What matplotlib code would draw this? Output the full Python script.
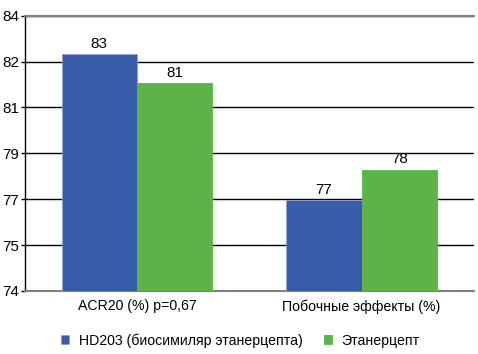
import numpy as np
import matplotlib
matplotlib.use("Agg")
import matplotlib.pyplot as plt

plt.rcParams['font.family'] = ['Liberation Sans', 'DejaVu Sans']

categories = ["ACR20 (%) p=0,67", "Побочные эффекты (%)"]
series_names = ["HD203 (биосимиляр этанерцепта)", "Этанерцепт"]
hd203 = [82.6, 77.3]
etanercept = [81.55, 78.4]
hd203_labels = ["83", "77"]
etanercept_labels = ["81", "78"]
ytick_values = [74, 75.667, 77.333, 79, 80.667, 82.333, 84]
ytick_labels = ["74", "75", "77", "79", "81", "82", "84"]

blue = "#3a5ca8"
green = "#5cb449"

fig = plt.figure(figsize=(4.78, 3.54), dpi=100)
ax = fig.add_axes([0.0513, 0.178, 0.9403, 0.7777])

x = np.arange(len(categories))
w = 0.335
b1 = ax.bar(x - w / 2, hd203, w, color=blue, edgecolor="#8fa3d0", linewidth=0.6, zorder=3,
            label=series_names[0])
b2 = ax.bar(x + w / 2, etanercept, w, color=green, edgecolor=green, linewidth=0.6, zorder=3,
            label=series_names[1])

# value labels above the bars
for bars, labels in ((b1, hd203_labels), (b2, etanercept_labels)):
    for rect, lab in zip(bars, labels):
        ax.annotate(lab, (rect.get_x() + rect.get_width() / 2, rect.get_height()),
                    xytext=(0, 2.5), textcoords="offset points",
                    ha="center", va="bottom", fontsize=11)

ax.set_xlim(-0.5, 1.5)
ax.set_ylim(74, 84)
ax.set_yticks(ytick_values)
ax.set_yticklabels(ytick_labels, fontsize=11)
ax.set_xticks(x)
ax.set_xticklabels(categories, fontsize=10.2)
ax.tick_params(axis="x", length=0, pad=6)
ax.tick_params(axis="y", length=3, width=1, pad=1)

ax.yaxis.grid(True, color="black", linewidth=1)
ax.set_axisbelow(True)

ax.spines["left"].set_color("black")
ax.spines["left"].set_linewidth(1)
ax.spines["right"].set_visible(False)
ax.spines["top"].set_color("#808080")
ax.spines["top"].set_linewidth(1.5)
ax.spines["bottom"].set_color("#808080")
ax.spines["bottom"].set_linewidth(1.5)

fig.legend(handles=[b1, b2], loc="lower left", bbox_to_anchor=(0.1276, 0.017), ncol=2,
           frameon=False, fontsize=10.2, borderpad=0, borderaxespad=0,
           handlelength=0.6, handleheight=0.6, handletextpad=0.65, columnspacing=1.5)

fig.savefig("out.png", dpi=100)
